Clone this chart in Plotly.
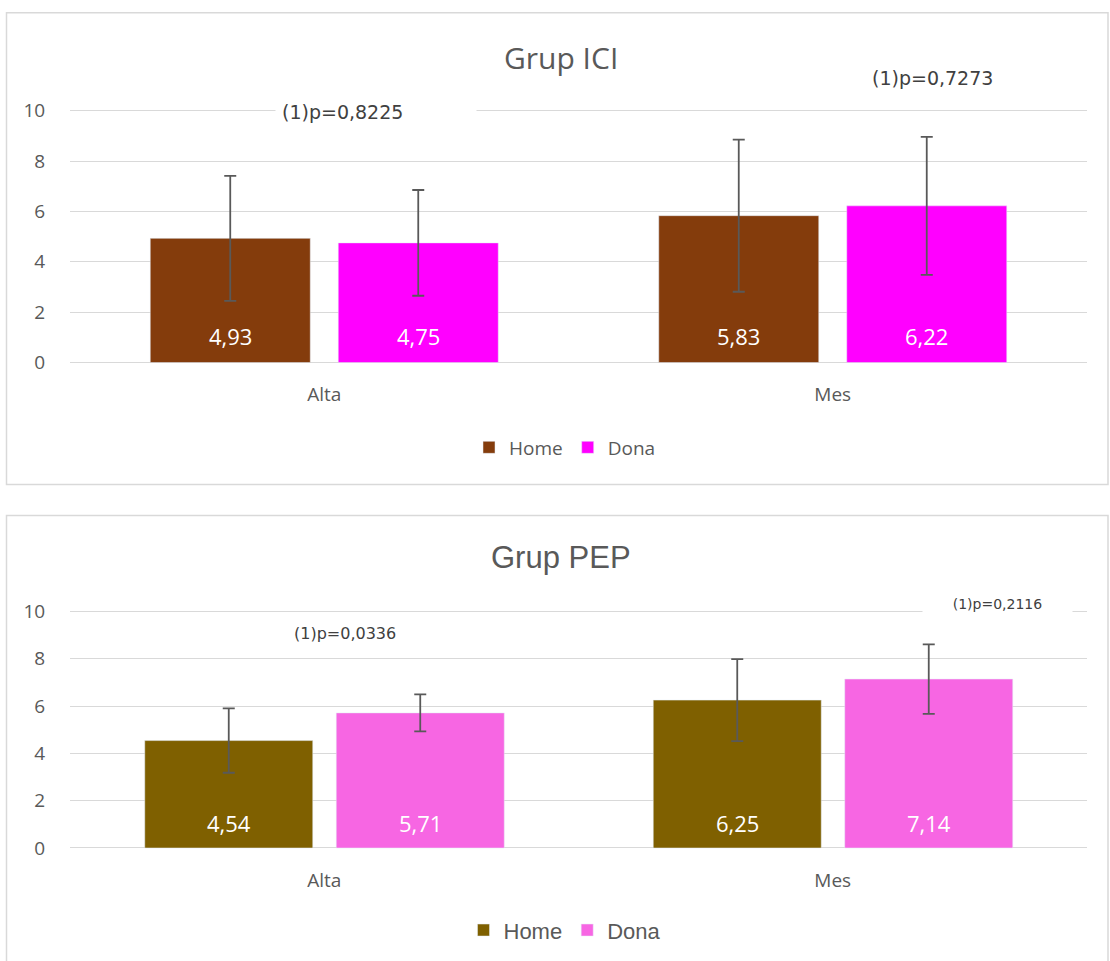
import plotly.graph_objects as go

categories = ["Alta", "Mes"]
series_names = ["Home", "Dona"]

ici_home = [4.93, 5.83]
ici_dona = [4.75, 6.22]
ici_home_sd = [2.48, 3.02]
ici_dona_sd = [2.10, 2.74]

pep_home = [4.54, 6.25]
pep_dona = [5.71, 7.14]
pep_home_sd = [1.36, 1.73]
pep_dona_sd = [0.78, 1.47]

ici_pvalues = ["(1)p=0,8225", "(1)p=0,7273"]
pep_pvalues = ["(1)p=0,0336", "(1)p=0,2116"]

titles = ["Grup ICI", "Grup PEP"]
y_ticks = [0, 2, 4, 6, 8, 10]

W, H = 1110, 961
# vertical calibration of the rendered page (observed in earlier renders)
Y0, YS = 3.3, 0.988


def px(x):
    return x / W


def py(y):
    return 1 - ((y - Y0) / YS) / H


GRID = "#d9d9d9"
TXT = "#595959"
ERR = "#595959"

fig = go.Figure()

# ---- top chart (ICI)
top_w = 160 / 508.5
fig.add_trace(go.Bar(
    x=categories, y=ici_home, name=series_names[0], marker_color="#843C0C",
    width=top_w, offset=-94 / 508.5 - top_w / 2,
    error_y=dict(type="data", array=ici_home_sd, color=ERR, thickness=1.8, width=6),
    xaxis="x", yaxis="y", legend="legend",
))
fig.add_trace(go.Bar(
    x=categories, y=ici_dona, name=series_names[1], marker_color="#FF00FF",
    width=top_w, offset=94 / 508.5 - top_w / 2,
    error_y=dict(type="data", array=ici_dona_sd, color=ERR, thickness=1.8, width=6),
    xaxis="x", yaxis="y", legend="legend",
))

# ---- bottom chart (PEP)
bot_w = 168 / 508.5
fig.add_trace(go.Bar(
    x=categories, y=pep_home, name=series_names[0], marker_color="#7F6000",
    width=bot_w, offset=-95.5 / 508.5 - bot_w / 2,
    error_y=dict(type="data", array=pep_home_sd, color=ERR, thickness=1.8, width=6),
    xaxis="x2", yaxis="y2", legend="legend2",
))
fig.add_trace(go.Bar(
    x=categories, y=pep_dona, name=series_names[1], marker_color="#F766E3",
    width=bot_w, offset=96 / 508.5 - bot_w / 2,
    error_y=dict(type="data", array=pep_dona_sd, color=ERR, thickness=1.8, width=6),
    xaxis="x2", yaxis="y2", legend="legend2",
))

annotations = []
# value labels inside bars
for vals, shift, xa, ya, ys in [
    (ici_home, -94, "x", "y", 27), (ici_dona, 94, "x", "y", 27),
    (pep_home, -95.5, "x2", "y2", 25), (pep_dona, 96, "x2", "y2", 25),
]:
    for c, v in zip(categories, vals):
        annotations.append(dict(
            x=c, y=0, xref=xa, yref=ya, xshift=shift, yshift=ys,
            text=f"{v:.2f}".replace(".", ","), showarrow=False,
            font=dict(family="Open Sans", size=22, color="white"),
            xanchor="center", yanchor="middle",
        ))

# titles
annotations.append(dict(x=px(561), y=py(57), xref="paper", yref="paper", text=titles[0],
                        showarrow=False, xanchor="center", yanchor="middle",
                        font=dict(family="Open Sans", size=30, color=TXT)))
annotations.append(dict(x=px(561), y=py(557), xref="paper", yref="paper", text=titles[1],
                        showarrow=False, xanchor="center", yanchor="middle",
                        font=dict(family="Liberation Sans Narrow, Arial Narrow, Liberation Sans", size=31, color=TXT)))

# p-values
pfont = dict(family="DejaVu Sans", size=19, color="#404040")
annotations.append(dict(x=px(375.5), y=py(111), xref="paper", yref="paper", text=ici_pvalues[0],
                        showarrow=False, xanchor="center", yanchor="middle", width=188, borderpad=6,
                        align="left", bgcolor="white", font=pfont))
annotations.append(dict(x=px(932), y=py(77), xref="paper", yref="paper", text=ici_pvalues[1],
                        showarrow=False, xanchor="center", yanchor="middle", bgcolor="white", font=pfont))
annotations.append(dict(x=px(345), y=py(633), xref="paper", yref="paper", text=pep_pvalues[0],
                        showarrow=False, xanchor="center", yanchor="middle", bgcolor="white",
                        font=dict(family="DejaVu Sans", size=16, color="#404040")))
annotations.append(dict(x=px(997.5), y=py(604), xref="paper", yref="paper", text=pep_pvalues[1],
                        showarrow=False, xanchor="center", yanchor="middle", width=147, bgcolor="white",
                        font=dict(family="DejaVu Sans", size=14, color="#404040")))

shapes = [
    dict(type="rect", xref="paper", yref="paper", x0=px(6.5), x1=px(1108), y0=py(484), y1=py(12),
         line=dict(color=GRID, width=1.5), fillcolor="rgba(0,0,0,0)", layer="below"),
    dict(type="rect", xref="paper", yref="paper", x0=px(6.5), x1=px(1108), y0=-0.05, y1=py(515),
         line=dict(color=GRID, width=1.5), fillcolor="rgba(0,0,0,0)", layer="below"),
]

tickfont = dict(family="Open Sans", size=19, color=TXT)
yaxis_common = dict(range=[-0.2, 10.4], tickvals=y_ticks, showgrid=True, gridcolor=GRID, gridwidth=1.3,
                    zeroline=False, showline=False, ticks="outside", ticklen=20,
                    tickcolor="rgba(0,0,0,0)", tickfont=tickfont, fixedrange=True)
xaxis_common = dict(type="category", range=[-0.5, 1.5], showgrid=False, zeroline=False, showline=False,
                    ticks="outside", ticklen=10, tickcolor="rgba(0,0,0,0)", tickfont=tickfont,
                    fixedrange=True)

# y pixel positions of the 0 and 10 gridlines in each panel
top_y0, top_y10 = 362, 110
bot_y0, bot_y10 = 847.7, 611
top_u = (top_y0 - top_y10) / 10
bot_u = (bot_y0 - bot_y10) / 10

fig.update_layout(
    width=W, height=H,
    margin=dict(l=0, r=0, t=0, b=0),
    paper_bgcolor="white", plot_bgcolor="white",
    barmode="group",
    xaxis=dict(domain=[px(70), px(1087)], anchor="y", **xaxis_common),
    yaxis=dict(domain=[py(top_y0 + 0.2 * top_u), py(top_y0 - 10.4 * top_u)], anchor="x", **yaxis_common),
    xaxis2=dict(domain=[px(70), px(1087)], anchor="y2", **xaxis_common),
    yaxis2=dict(domain=[py(bot_y0 + 0.2 * bot_u), py(bot_y0 - 10.4 * bot_u)], anchor="x2", **yaxis_common),
    legend=dict(orientation="h", x=px(565), y=py(447), xanchor="center", yanchor="middle",
                font=dict(family="Open Sans", size=19, color=TXT), bgcolor="rgba(0,0,0,0)"),
    legend2=dict(orientation="h", x=px(565), y=py(930), xanchor="center", yanchor="middle",
                 font=dict(family="Liberation Sans Narrow, Arial Narrow, Liberation Sans", size=22, color=TXT),
                 bgcolor="rgba(0,0,0,0)"),
    annotations=annotations,
    shapes=shapes,
    showlegend=True,
)

fig.write_html("out.html", config={"displayModeBar": False},
               post_script="document.body.style.margin='0';document.body.style.overflow='hidden';")
